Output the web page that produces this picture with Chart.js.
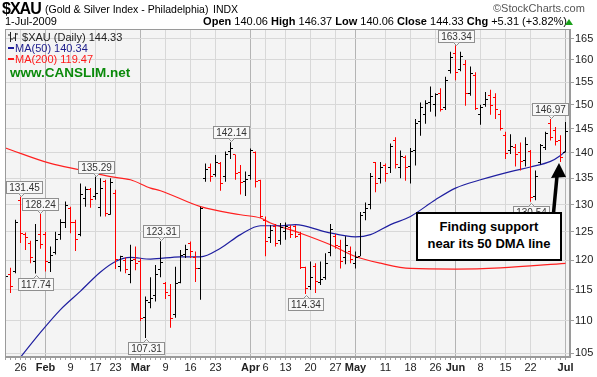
<!DOCTYPE html>
<html><head><meta charset="utf-8">
<script src="https://cdn.jsdelivr.net/npm/chart.js@4.4.0/dist/chart.umd.min.js"></script>
<style>
html,body{margin:0;padding:0;background:#fff;}
#wrap{position:relative;width:597px;height:377px;overflow:hidden;font-family:"Liberation Sans",Arial,sans-serif;color:#000;}
#c{position:absolute;left:0;top:0;}
.t{position:absolute;white-space:nowrap;line-height:1;}
#callout{position:absolute;left:416px;top:212px;width:142px;height:41px;border:2px solid #000;background:#fff;font-weight:bold;font-size:13px;text-align:center;line-height:17px;padding-top:4px;box-sizing:content-box;}
</style></head><body>
<div id="wrap">
<canvas id="c" width="597" height="377"></canvas>
<div class="t" id="sym" style="left:2px;top:1px;font-size:16px;font-weight:bold;letter-spacing:-1px;"></div>
<div class="t" style="left:45px;top:4px;font-size:10.5px;">(Gold &amp; Silver Index - Philadelphia)</div>
<div class="t" style="left:213px;top:4px;font-size:10.5px;">INDX</div>
<div class="t" style="left:493px;top:3px;font-size:11px;color:#555;">©StockCharts.com</div>
<div class="t" id="dt" style="left:5px;top:16px;font-size:11px;"></div>
<div class="t" id="ohlcLine" style="right:30px;top:16px;font-size:11px;"></div>
<div style="position:absolute;left:565px;top:19px;width:0;height:0;border-left:4px solid transparent;border-right:4px solid transparent;border-bottom:6px solid #1aa01a;"></div>
<div class="t" style="left:8px;top:32px;font-size:11px;color:#222;"><svg width="11" height="10" style="vertical-align:-1px"><path d="M2.5 0V10M0 3H2.5M2.5 7H5M7.5 1V9M5 6H7.5M7.5 2H10" stroke="#222" stroke-width="1" fill="none"/></svg> <span id="lg1"></span></div>
<div class="t" style="left:8px;top:43px;font-size:11px;color:#1c1c8c;"><span style="display:inline-block;width:6px;height:2px;background:#1c1c9c;vertical-align:3px;margin-right:1px"></span><span id="lg2"></span></div>
<div class="t" style="left:8px;top:54px;font-size:11px;color:#ff1a1a;"><span style="display:inline-block;width:6px;height:2px;background:#ff1a1a;vertical-align:3px;margin-right:1px"></span><span id="lg3"></span></div>
<div class="t" style="left:10px;top:66px;font-size:13.5px;font-weight:bold;color:#0b8a0b;">www.CANSLIM.net</div>
<svg style="position:absolute;left:0;top:0" width="597" height="377"><line x1="553.5" y1="213" x2="557" y2="176" stroke="#000" stroke-width="3.5"/><polygon points="559,163 551,178 566,177" fill="#000"/></svg>
<div id="callout">Finding support<br>near its 50 DMA line</div>
</div>
<script>
const days = ['2009-01-21','2009-01-22','2009-01-23','2009-01-26','2009-01-27','2009-01-28','2009-01-29','2009-01-30',
'2009-02-02','2009-02-03','2009-02-04','2009-02-05','2009-02-06','2009-02-09','2009-02-10','2009-02-11','2009-02-12','2009-02-13','2009-02-17','2009-02-18','2009-02-19','2009-02-20','2009-02-23','2009-02-24','2009-02-25','2009-02-26','2009-02-27',
'2009-03-02','2009-03-03','2009-03-04','2009-03-05','2009-03-06','2009-03-09','2009-03-10','2009-03-11','2009-03-12','2009-03-13','2009-03-16','2009-03-17','2009-03-18','2009-03-19','2009-03-20','2009-03-23','2009-03-24','2009-03-25','2009-03-26','2009-03-27','2009-03-30','2009-03-31',
'2009-04-01','2009-04-02','2009-04-03','2009-04-06','2009-04-07','2009-04-08','2009-04-09','2009-04-13','2009-04-14','2009-04-15','2009-04-16','2009-04-17','2009-04-20','2009-04-21','2009-04-22','2009-04-23','2009-04-24','2009-04-27','2009-04-28','2009-04-29','2009-04-30',
'2009-05-01','2009-05-04','2009-05-05','2009-05-06','2009-05-07','2009-05-08','2009-05-11','2009-05-12','2009-05-13','2009-05-14','2009-05-15','2009-05-18','2009-05-19','2009-05-20','2009-05-21','2009-05-22','2009-05-26','2009-05-27','2009-05-28','2009-05-29',
'2009-06-01','2009-06-02','2009-06-03','2009-06-04','2009-06-05','2009-06-08','2009-06-09','2009-06-10','2009-06-11','2009-06-12','2009-06-15','2009-06-16','2009-06-17','2009-06-18','2009-06-19','2009-06-22','2009-06-23','2009-06-24','2009-06-25','2009-06-26','2009-06-29','2009-06-30',
'2009-07-01'];
const opens = [116.5,117.5,118.1,130.7,124.6,123.0,119.8,124.5,
124.5,119.6,121.3,124.5,126.6,129.3,126.7,124.5,131.2,132.75,131.5,129.5,134.4,128.2,132.0,119.0,120.0,117.5,120.2,
119.8,110.5,113.0,114.0,118.5,116.0,114.0,111.0,116.3,121.0,123.0,120.5,118.6,135.0,137.0,135.8,137.8,135.4,140.3,139.7,136.2,134.4,
135.5,140.0,134.5,127.0,124.0,126.0,123.5,125.0,125.8,125.9,124.5,118.8,115.5,119.0,116.2,117.0,121.3,124.2,122.4,120.5,121.5,
119.5,120.7,128.5,130.0,138.0,135.0,137.5,137.0,142.5,137.0,139.0,137.3,140.5,146.5,148.0,150.5,150.0,152.5,149.5,157.5,
161.5,157.8,159.0,152.5,156.5,148.0,150.0,152.0,151.5,148.0,143.5,140.5,141.0,140.0,138.5,140.2,131.5,138.0,141.0,146.0,144.5,142.5,
140.06];
const highs = [118.0,118.7,127.2,131.45,124.9,123.4,126.4,128.24,
125.0,122.4,125.0,127.3,130.55,129.6,127.2,134.0,133.4,133.1,135.29,135.0,134.7,135.0,132.8,120.8,120.5,122.7,122.4,
120.3,113.9,117.1,119.2,123.31,116.3,116.0,118.9,121.8,122.7,123.3,121.5,129.6,137.9,137.9,139.6,138.2,140.3,142.14,139.7,137.6,136.3,
140.9,140.3,134.7,127.8,126.2,126.4,126.6,126.7,126.2,126.2,125.0,118.9,119.8,119.5,119.8,121.2,126.4,124.6,123.6,124.2,122.4,
121.5,128.6,130.4,136.0,138.2,138.2,137.9,141.9,143.2,140.5,139.5,141.0,147.0,150.5,151.0,154.0,152.5,153.6,156.2,161.9,
163.34,161.9,160.0,158.5,157.2,150.0,152.8,153.3,152.5,148.9,144.3,143.8,141.8,142.1,143.2,140.6,136.5,141.8,144.3,146.97,145.3,143.6,
146.37];
const lows = [116.0,114.5,117.8,123.0,121.8,119.5,117.74,122.0,
118.1,118.0,121.0,123.6,125.7,124.75,121.6,124.2,129.6,129.4,130.9,127.8,127.8,128.1,118.5,118.1,117.8,116.1,118.3,
110.0,107.31,112.0,113.1,117.1,113.5,108.9,110.5,116.1,120.4,120.4,116.3,113.4,134.3,134.3,135.3,132.6,134.3,138.8,134.7,131.9,131.6,
134.7,133.2,127.5,120.7,123.0,122.4,122.7,123.6,123.9,123.9,118.5,114.34,115.0,114.5,115.8,116.7,120.7,122.0,118.6,119.3,119.5,
118.6,120.7,127.1,129.1,132.3,134.0,134.3,136.0,136.9,135.0,134.5,134.0,137.5,143.5,146.0,148.5,147.5,148.6,148.9,156.9,
155.4,157.4,149.8,152.0,148.9,145.8,149.6,147.9,147.0,144.6,138.8,139.8,137.3,136.5,137.3,130.54,130.8,137.7,140.6,142.5,141.5,138.2,
140.06];
const closes = [117.3,115.6,126.7,124.7,123.9,120.5,123.5,122.8,
119.8,120.8,123.6,126.7,129.9,126.6,123.6,131.8,132.9,130.9,132.0,133.0,128.4,134.2,120.2,120.6,118.5,120.0,119.5,
110.3,113.2,113.6,117.5,119.7,114.5,110.3,116.1,120.8,121.8,121.5,118.6,129.3,136.8,135.3,138.0,134.0,139.6,140.8,136.0,134.2,134.7,
140.5,134.4,127.8,123.3,125.3,123.0,125.8,126.0,124.5,124.2,118.8,115.2,117.0,116.4,116.8,119.5,125.5,122.5,119.8,122.6,120.1,
120.5,128.0,129.3,135.3,134.0,137.0,136.0,141.2,137.7,139.2,137.0,140.3,146.0,149.5,150.3,151.8,152.2,148.9,155.4,160.5,
157.2,160.9,152.4,156.8,149.3,149.5,151.1,149.9,148.9,145.0,139.9,141.3,139.6,138.2,141.8,131.3,135.3,141.5,144.0,143.2,142.3,139.02,
144.33];

const ma50Days = ['2009-01-22','2009-01-26','2009-01-30','2009-02-05','2009-02-11','2009-02-18','2009-02-23','2009-02-26','2009-03-04','2009-03-12','2009-03-18','2009-03-24','2009-03-30','2009-04-03','2009-04-09','2009-04-15','2009-04-23','2009-05-01','2009-05-06','2009-05-12','2009-05-18','2009-05-26','2009-06-01','2009-06-08','2009-06-16','2009-06-22','2009-06-26','2009-06-30','2009-07-01'];
const ma50Vals = [102.5,104.4,108.2,111.8,114.8,118.0,119.8,120.5,120.2,120.6,120.6,122.1,124.5,126.1,126.1,126.3,125.0,124.1,124.5,126.3,127.8,130.9,133.1,134.7,136.3,137.2,138.3,139.5,140.34];
const ma200Days = ['2009-01-21','2009-02-03','2009-02-11','2009-02-20','2009-02-26','2009-03-04','2009-03-06','2009-03-18','2009-03-30','2009-04-03','2009-04-07','2009-04-16','2009-04-24','2009-05-01','2009-05-08','2009-05-18','2009-06-01','2009-06-12','2009-07-01'];
const ma200Vals = [141.0,137.9,136.6,135.3,134.7,133.1,132.6,129.6,128.1,127.5,126.6,124.75,122.7,120.65,119.5,118.6,118.5,118.7,119.47];

const tickDays = ['2009-01-26','2009-02-02','2009-02-09','2009-02-17','2009-02-23','2009-03-02','2009-03-09','2009-03-16','2009-03-23','2009-04-01','2009-04-06','2009-04-13','2009-04-20','2009-04-27','2009-05-01','2009-05-11','2009-05-18','2009-05-26','2009-06-01','2009-06-08','2009-06-15','2009-06-22','2009-07-01'];
const tickLabels = ['26','Feb','9','17','23','Mar','9','16','23','Apr','6','13','20','27','May','11','18','26','Jun','8','15','22','Jul'];
const priceTicks = [105,110,115,120,125,130,135,140,145,150,155,160,165];

const markDays = ['2009-01-26','2009-01-30','2009-01-29','2009-02-17','2009-03-03','2009-03-06','2009-03-26','2009-04-17','2009-06-01','2009-06-26','2009-06-22'];
const markKinds = ['high','high','low','high','low','high','high','low','high','high','low'];

const idxOf = d => days.indexOf(d);
const monthNames = ['Jan','Feb','Mar','Apr','May','Jun','Jul','Aug','Sep','Oct','Nov','Dec'];
const labelAt = {}; const monthTick = {};
tickDays.forEach((d,k)=>{ const i = idxOf(d); labelAt[i] = tickLabels[k]; monthTick[i] = monthNames.includes(tickLabels[k]); });
const barColors = closes.map((c,i)=> (i===0 || c >= closes[i-1]) ? '#000000' : '#ff0000');

const n = days.length - 1;
const chg = closes[n] - closes[n-1];
const f2 = v => v.toFixed(2);
document.getElementById('sym').textContent = '$XAU';
const ld = days[n].split('-');
document.getElementById('dt').textContent = (+ld[2]) + '-' + monthNames[+ld[1]-1] + '-' + ld[0];
document.getElementById('ohlcLine').innerHTML = '<b>Open</b> ' + f2(opens[n]) + ' <b>High</b> ' + f2(highs[n]) + ' <b>Low</b> ' + f2(lows[n]) + ' <b>Close</b> ' + f2(closes[n]) + ' <b>Chg</b> ' + (chg>=0?'+':'') + f2(chg) + ' (' + (chg>=0?'+':'') + f2(chg/closes[n-1]*100) + '%)';
document.getElementById('lg1').textContent = '$XAU (Daily) ' + f2(closes[n]);
document.getElementById('lg2').textContent = 'MA(50) ' + f2(ma50Vals[ma50Vals.length-1]);
document.getElementById('lg3').textContent = 'MA(200) ' + f2(ma200Vals[ma200Vals.length-1]);

Chart.defaults.font.family = "'Liberation Sans', Arial, sans-serif";

const ohlcPlugin = {
  id: 'ohlc',
  beforeDraw(chart){
    const {ctx, chartArea:a} = chart;
    ctx.save(); ctx.fillStyle = '#f4f4f4'; ctx.fillRect(a.left, a.top, a.width, a.height); ctx.restore();
  },
  afterDatasetsDraw(chart){
    const {ctx, chartArea:a, scales:{x, y}} = chart;
    ctx.save();
    ctx.beginPath(); ctx.rect(a.left, a.top, a.width, a.height); ctx.clip();
    days.forEach((d,i)=>{
      const bx = Math.round(x.getPixelForValue(i) - 0.5);
      ctx.fillStyle = barColors[i];
      ctx.fillRect(bx - 2, Math.round(y.getPixelForValue(opens[i]) - 0.5), 2, 1);
      ctx.fillRect(bx + 1, Math.round(y.getPixelForValue(closes[i]) - 0.5), 2, 1);
    });
    ctx.font = "10px 'Liberation Sans', Arial, sans-serif";
    markDays.forEach((d,k)=>{
      const i = idxOf(d); const hi = markKinds[k] === 'high';
      const v = hi ? highs[i] : lows[i];
      const txt = f2(v);
      const cx = x.getPixelForValue(i), py = y.getPixelForValue(v);
      const w = Math.round(ctx.measureText(txt).width + 5), h = 12;
      let bx = Math.round(cx - w/2); bx = Math.max(a.left + 1, Math.min(a.right - w - 2, bx));
      let by = hi ? Math.round(py - 4 - h) : Math.round(py + 4);
      by = Math.max(a.top + 1, Math.min(a.bottom - h - 2, by));
      ctx.fillStyle = '#f8f8f8'; ctx.strokeStyle = '#8f8f8f'; ctx.lineWidth = 1;
      ctx.fillRect(bx + 0.5, by + 0.5, w, h);
      ctx.strokeRect(bx + 0.5, by + 0.5, w, h);
      const px = Math.round(cx) + 0.5;
      ctx.beginPath();
      if (hi) { ctx.moveTo(px - 3, by + h + 0.5); ctx.lineTo(px, by + h + 3.5); ctx.lineTo(px + 3, by + h + 0.5); }
      else { ctx.moveTo(px - 3, by + 0.5); ctx.lineTo(px, by - 2.5); ctx.lineTo(px + 3, by + 0.5); }
      ctx.fill(); ctx.stroke();
      ctx.fillStyle = '#333'; ctx.textAlign = 'center'; ctx.textBaseline = 'middle';
      ctx.fillText(txt, bx + w/2 + 0.5, by + h/2 + 1);
    });
    ctx.restore();
  },
  afterDraw(chart){
    const {ctx, chartArea:a} = chart;
    ctx.save(); ctx.strokeStyle = '#9a9a9a'; ctx.lineWidth = 1;
    ctx.strokeRect(a.left + 0.5, a.top + 0.5, a.width - 1, a.height - 1);
    ctx.restore();
  }
};

new Chart(document.getElementById('c'), {
  type: 'bar',
  data: {
    datasets: [
      { type: 'line', label: 'MA(50)', data: ma50Days.map((d,k)=>({x: idxOf(d), y: ma50Vals[k]})), borderColor: '#1f1fa0', borderWidth: 1.2, pointRadius: 0, cubicInterpolationMode: 'monotone', order: 2 },
      { type: 'line', label: 'MA(200)', data: ma200Days.map((d,k)=>({x: idxOf(d), y: ma200Vals[k]})), borderColor: '#ff2020', borderWidth: 1.2, pointRadius: 0, cubicInterpolationMode: 'monotone', order: 3 },
      { type: 'bar', label: '$XAU', data: days.map((d,i)=>({x: i, y: [lows[i], highs[i]]})), backgroundColor: barColors, borderWidth: 0, barThickness: 1, inflateAmount: 0, order: 1 }
    ]
  },
  options: {
    responsive: false, animation: false, devicePixelRatio: 1,
    layout: { padding: { left: 5, top: 29, right: 0, bottom: 0 } },
    plugins: { legend: { display: false }, tooltip: { enabled: false } },
    scales: {
      x: {
        type: 'linear', min: -0.1, max: 112.9, offset: false,
        afterBuildTicks: s => { s.ticks = days.map((d,i)=>({value: i})); },
        afterFit: s => { s.height = 20; },
        ticks: { autoSkip: false, maxRotation: 0, minRotation: 0, padding: 1, color: '#222',
          font: c => ({ size: 11, weight: (c.tick && monthTick[c.tick.value]) ? 'bold' : 'normal' }),
          callback: v => labelAt[v] || '' },
        grid: { offset: false, lineWidth: 1, tickLength: 3, tickColor: '#a0a0a0',
          color: c => (c.tick && labelAt[c.tick.value] !== undefined) ? (monthTick[c.tick.value] ? '#b4b4b4' : '#d8d8d8') : 'rgba(0,0,0,0)' },
        border: { color: '#9a9a9a' }
      },
      y: {
        type: 'logarithmic', position: 'right', min: 104.44, max: 167.26,
        afterBuildTicks: s => { s.ticks = priceTicks.map(v=>({value: v})); },
        afterFit: s => { s.width = 27; },
        ticks: { padding: 1, color: '#222', font: { size: 11 }, callback: v => String(v) },
        grid: { color: '#d8d8d8', tickColor: '#a0a0a0', tickLength: 4 },
        border: { color: '#9a9a9a' }
      }
    }
  },
  plugins: [ohlcPlugin]
});
</script>
</body></html>
